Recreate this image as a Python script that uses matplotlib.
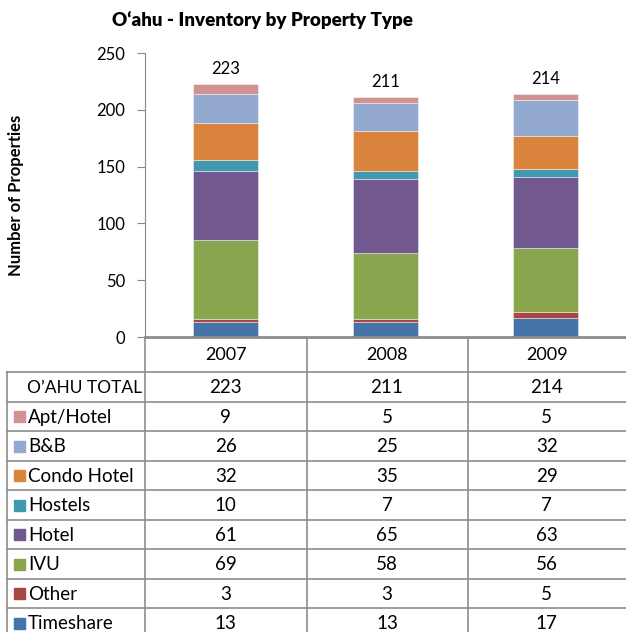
import numpy as np
import matplotlib
matplotlib.use("Agg")
from matplotlib import pyplot as plt
from matplotlib.patches import Rectangle

plt.rcParams['font.family'] = ['Lato', 'DejaVu Sans']

# data
years = ['2007', '2008', '2009']
totals = [223, 211, 214]
# stack order bottom -> top
types = ['Timeshare', 'Other', 'IVU', 'Hotel', 'Hostels', 'Condo Hotel', 'B&B', 'Apt/Hotel']
timeshare = [13, 13, 17]
other = [3, 3, 5]
ivu = [69, 58, 56]
hotel = [61, 65, 63]
hostels = [10, 7, 7]
condo = [32, 35, 29]
bnb = [26, 25, 32]
apt = [9, 5, 5]
colors = ['#4572A7', '#AA4643', '#89A54E', '#71588F', '#4198AF', '#DB843D', '#93A9CF', '#D19392']

series = [timeshare, other, ivu, hotel, hostels, condo, bnb, apt]

W, H = 626, 632
fig = plt.figure(figsize=(W / 100, H / 100), dpi=100)

# chart axes in pixel terms
x0, x1 = 145, 626
ytop, ybot = 53, 337
ax = fig.add_axes([x0 / W, 1 - ybot / H, (x1 - x0) / W, (ybot - ytop) / H])

x = np.arange(len(years))
bottom = np.zeros(len(years))
for vals, c in zip(series, colors):
    ax.bar(x, vals, width=0.404, bottom=bottom, color=c,
           edgecolor=(1, 1, 1, 0.5), linewidth=0.6)
    bottom += np.array(vals)

for xi, t in zip(x, totals):
    ax.text(xi, t + 6, str(t), ha='center', va='bottom', fontsize=12)

ax.set_xlim(-0.5, len(years) - 0.5)
ax.set_ylim(0, 250)
ax.set_yticks(range(0, 251, 50))
ax.set_xticks([])
ax.tick_params(axis='y', length=6, width=0.8, color='#888888', labelsize=12, pad=8)
for s in ['top', 'right', 'bottom']:
    ax.spines[s].set_visible(False)
ax.spines['left'].set_color('#888888')
ax.spines['left'].set_linewidth(0.8)

fig.text(16 / W, 1 - 195 / H, 'Number of Properties', rotation=90,
         ha='center', va='center', fontsize=12, fontweight='bold')

fig.text(262 / W, 1 - 20 / H, "O\u2018ahu - Inventory by Property Type",
         ha='center', va='center', fontsize=13.5, fontweight='heavy')

# table drawn on an overlay in pixel coordinates
tb = fig.add_axes([0, 0, 1, 1])
tb.set_xlim(0, W)
tb.set_ylim(H, 0)
tb.axis('off')

line_c = '#8c8c8c'
col_x = [7, 145, 306.5, 467.5, 626]
head_top, head_bot = 337, 372
row_h = 29.5
labels = ["O\u2019AHU TOTAL"] + types[::-1]
rows = [totals] + series[::-1]
row_cols = [None] + colors[::-1]
n = len(rows)
tab_bot = head_bot + n * row_h

# header
tb.plot([col_x[1], W], [head_top, head_top], color=line_c, lw=2)
for cx in col_x[1:4]:
    tb.plot([cx, cx], [head_top, tab_bot], color=line_c, lw=1.2)
tb.plot([col_x[0], col_x[0]], [head_bot, tab_bot], color=line_c, lw=1.2)
for j, y in enumerate(years):
    tb.text((col_x[j + 1] + col_x[j + 2]) / 2, (head_top + head_bot) / 2 + 1, y,
            ha='center', va='center', fontsize=13)

for i in range(n + 1):
    yy = head_bot + i * row_h
    tb.plot([col_x[0], W], [yy, yy], color=line_c, lw=1.2)

for i, (lab, vals, c) in enumerate(zip(labels, rows, row_cols)):
    yc = head_bot + (i + 0.5) * row_h + 1
    if c is None:
        tb.text(142, yc, lab, ha='right', va='center', fontsize=12.5)
    else:
        tb.add_patch(Rectangle((14, yc - 6), 11, 11, color=c))
        tb.text(28, yc, lab, ha='left', va='center', fontsize=13.5)
    for j, v in enumerate(vals):
        tb.text((col_x[j + 1] + col_x[j + 2]) / 2, yc, str(v),
                ha='center', va='center', fontsize=13.5)

fig.savefig('out.png', dpi=100)
